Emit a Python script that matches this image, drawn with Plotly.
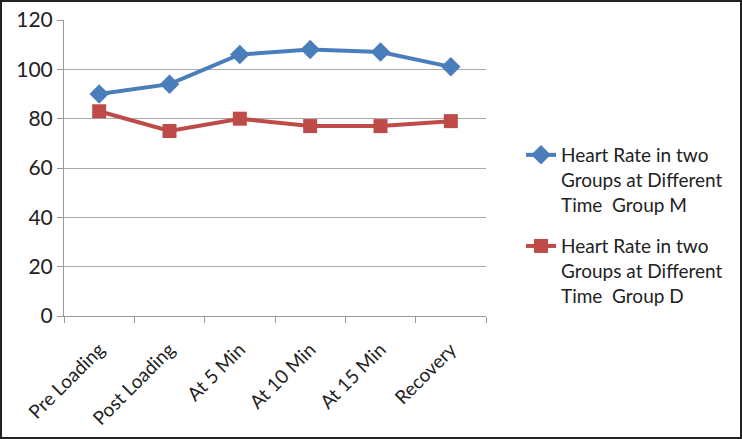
import plotly.graph_objects as go

categories = ["Pre Loading", "Post Loading", "At 5 Min", "At 10 Min", "At 15 Min", "Recovery"]
group_m = [90, 94, 106, 108, 107, 101]
group_d = [83, 75, 80, 77, 77, 79]
name_m = "Heart Rate in two<br>Groups at Different<br>Time  Group M"
name_d = "Heart Rate in two<br>Groups at Different<br>Time  Group D"
y_ticks = [0, 20, 40, 60, 80, 100, 120]

W, H = 742, 439
ml, mr, mt, mb = 64, 256, 20, 123
pw, ph = W - ml - mr, H - mt - mb

fig = go.Figure()
fig.add_trace(go.Scatter(
    x=categories, y=group_m, name=name_m, mode="lines+markers", legendgroup="m",
    line=dict(color="#4A7EBB", width=4),
    marker=dict(symbol="diamond", size=15, color="#4A7EBB"),
))
fig.add_trace(go.Scatter(
    x=categories, y=group_d, name=name_d, mode="lines+markers", legendgroup="d",
    line=dict(color="#BE4B48", width=4),
    marker=dict(symbol="square", size=14, color="#BE4B48"),
))

fig.update_layout(
    width=W, height=H,
    margin=dict(l=ml, r=mr, t=mt, b=mb, pad=0, autoexpand=False),
    paper_bgcolor="white", plot_bgcolor="white",
    font=dict(family="Lato, Open Sans, sans-serif", color="#222222", size=19),
    showlegend=True,
    legend=dict(
        x=(521 - ml) / pw, y=(H - mb - 136) / ph, xanchor="left", yanchor="top",
        font=dict(size=19, color="#222222"), valign="top",
        tracegroupgap=14, bgcolor="rgba(0,0,0,0)",
    ),
    xaxis=dict(
        type="category", tickangle=-45, tickson="boundaries",
        ticks="outside", ticklen=6, tickcolor="#999999",
        showline=True, linecolor="#999999", linewidth=1,
        showgrid=False, tickfont=dict(size=19, color="#222222"),
        range=[-0.5, 5.5], ticklabelstandoff=14,
    ),
    yaxis=dict(
        range=[0, 120], tickvals=y_ticks, ticks="outside", ticklen=6,
        tickcolor="#999999", showline=True, linecolor="#999999", linewidth=1,
        showgrid=True, gridcolor="#AAAAAA", gridwidth=1, zeroline=False,
        tickfont=dict(size=21, color="#222222"),
    ),
    shapes=[dict(
        type="rect", xref="paper", yref="paper",
        x0=(1 - ml) / pw, x1=(W - 1 - ml) / pw,
        y0=-(mb - 1) / ph, y1=1 + (mt - 1) / ph,
        line=dict(color="#222222", width=2), layer="above",
    )],
)

fig.write_html(
    "out.html",
    config={"displayModeBar": False},
    post_script="document.body.style.margin='0';document.body.style.overflow='hidden';",
)
